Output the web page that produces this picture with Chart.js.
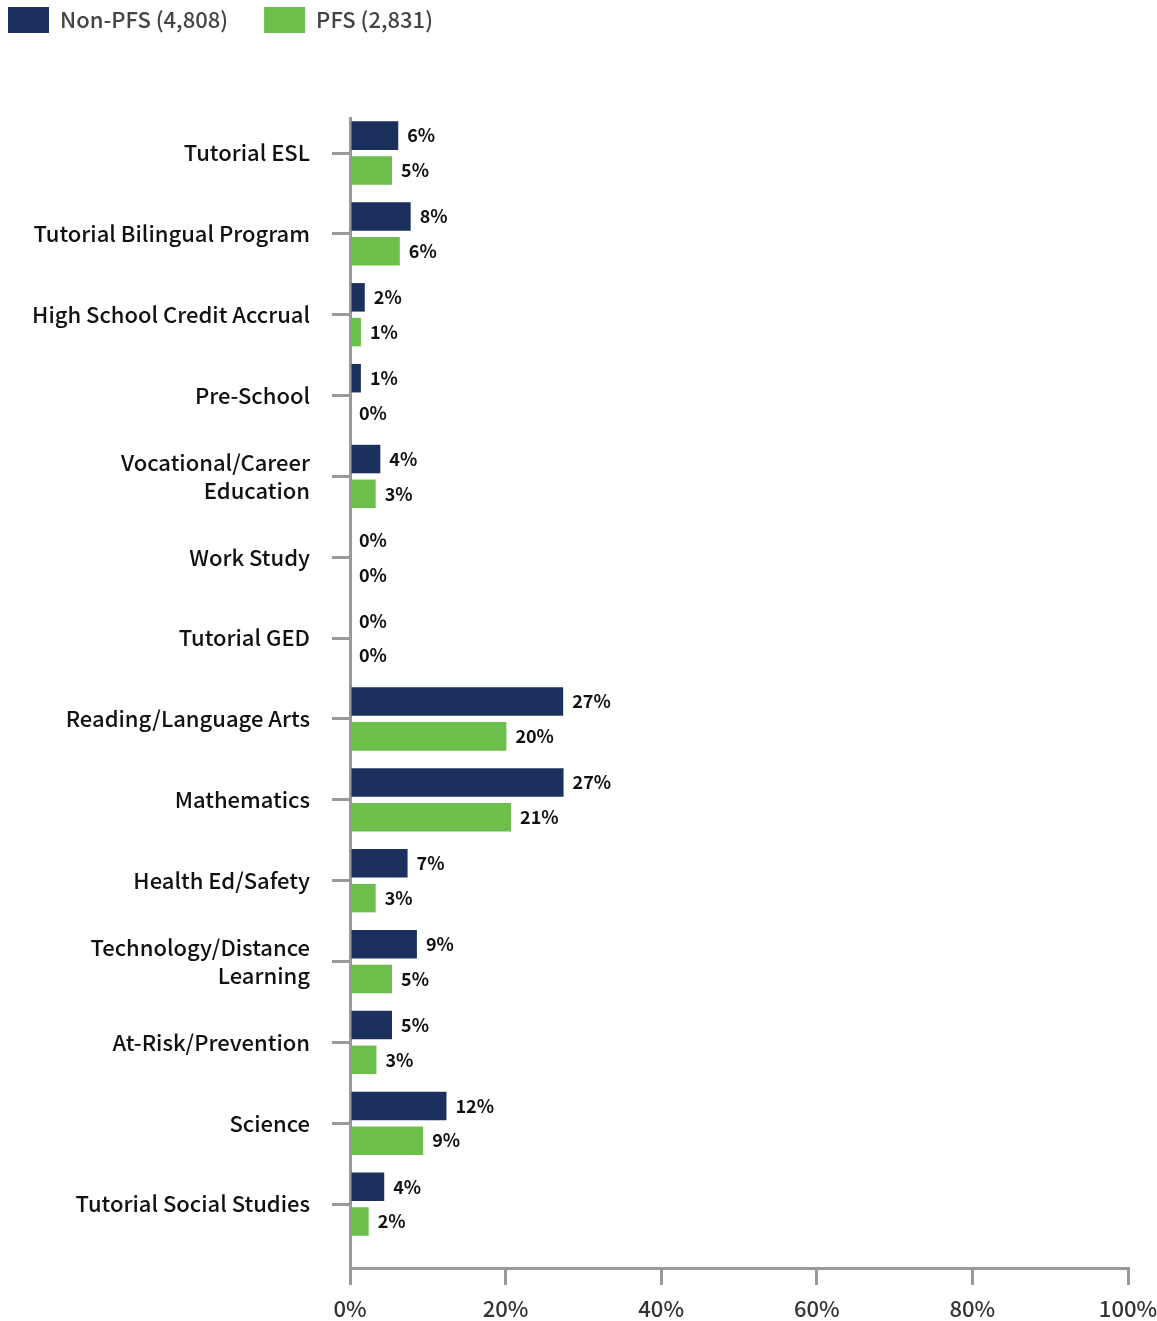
<!DOCTYPE html>
<html>
<head>
<meta charset="utf-8">
<script src="https://cdn.jsdelivr.net/npm/chart.js@4/dist/chart.umd.min.js"></script>
<style>
  html, body { margin: 0; padding: 0; background: #ffffff; }
  #wrap { width: 1157px; height: 1321px; }
</style>
</head>
<body>
<div id="wrap"><canvas id="c" width="1157" height="1321"></canvas></div>
<script>
// ---- data ----
const categories = [
  'Tutorial ESL',
  'Tutorial Bilingual Program',
  'High School Credit Accrual',
  'Pre-School',
  ['Vocational/Career', 'Education'],
  'Work Study',
  'Tutorial GED',
  'Reading/Language Arts',
  'Mathematics',
  'Health Ed/Safety',
  ['Technology/Distance', 'Learning'],
  'At-Risk/Prevention',
  'Science',
  'Tutorial Social Studies'
];
const seriesNames = ['Non-PFS (4,808)', 'PFS (2,831)'];
const nonPfs = [6.2, 7.8, 1.9, 1.4, 3.9, 0, 0, 27.4, 27.45, 7.4, 8.6, 5.4, 12.4, 4.4];
const pfs    = [5.4, 6.4, 1.4, 0,   3.3, 0, 0, 20.1, 20.7,  3.3, 5.4, 3.4, 9.4,  2.4];
const xTicks = [0, 20, 40, 60, 80, 100];

const NAVY = '#1c305e';
const GREEN = '#6cbf4a';
const AXIS = '#999999';
const FONT = '"Noto Sans CJK SC", "Open Sans", sans-serif';

const toPoints = arr => arr.map((v, i) => ({ x: v, y: i }));

const legendPlugin = {
  id: 'customLegend',
  afterDraw(chart) {
    const ctx = chart.ctx;
    ctx.save();
    ctx.font = '500 22px ' + FONT;
    ctx.textBaseline = 'middle';
    ctx.textAlign = 'left';
    let x = 8;
    chart.data.datasets.forEach(ds => {
      ctx.fillStyle = ds.backgroundColor;
      ctx.fillRect(x, 7, 41, 26);
      ctx.fillStyle = '#444444';
      ctx.fillText(ds.label, x + 52, 20);
      x += 52 + ctx.measureText(ds.label).width + 36;
    });
    ctx.restore();
  }
};

const valueLabels = {
  id: 'valueLabels',
  afterDatasetsDraw(chart) {
    const ctx = chart.ctx;
    ctx.save();
    ctx.font = 'bold 18px ' + FONT;
    ctx.fillStyle = '#111111';
    ctx.textBaseline = 'middle';
    ctx.textAlign = 'left';
    chart.data.datasets.forEach((ds, di) => {
      const meta = chart.getDatasetMeta(di);
      meta.data.forEach((bar, i) => {
        const v = ds.data[i].x;
        ctx.fillText(Math.round(v) + '%', bar.x + 9, bar.y);
      });
    });
    ctx.restore();
  }
};

new Chart(document.getElementById('c'), {
  type: 'bar',
  data: {
    datasets: [
      { label: seriesNames[0], data: toPoints(nonPfs), backgroundColor: NAVY },
      { label: seriesNames[1], data: toPoints(pfs), backgroundColor: GREEN }
    ]
  },
  options: {
    indexAxis: 'y',
    responsive: false,
    animation: false,
    categoryPercentage: 0.86,
    barPercentage: 0.82,
    layout: { padding: { top: 118, right: 0, left: 0, bottom: 0 } },
    plugins: {
      legend: { display: false },
      tooltip: { enabled: false }
    },
    scales: {
      x: {
        type: 'linear',
        position: 'bottom',
        min: 0,
        max: 100,
        afterBuildTicks(scale) { scale.ticks = xTicks.map(v => ({ value: v })); },
        afterFit(scale) { scale.height = 53; scale.paddingRight = 29; },
        border: { display: true, color: AXIS, width: 3 },
        grid: { drawOnChartArea: false, drawTicks: true, tickLength: 17, color: AXIS, lineWidth: 3 },
        ticks: {
          padding: 10,
          color: '#333333',
          font: { family: FONT, size: 22, weight: '500' },
          callback: v => v + '%'
        }
      },
      y: {
        type: 'linear',
        reverse: true,
        offset: false,
        min: -0.433,
        max: 13.79,
        afterBuildTicks(scale) { scale.ticks = categories.map((c, i) => ({ value: i })); },
        afterFit(scale) { scale.width = 350; },
        border: { display: true, color: AXIS, width: 3 },
        grid: { offset: false, drawOnChartArea: false, drawTicks: true, tickLength: 18, color: AXIS, lineWidth: 3 },
        ticks: {
          padding: 22,
          color: '#111111',
          font: { family: FONT, size: 22, weight: '500', lineHeight: 1.27 },
          callback: v => categories[v]
        }
      }
    }
  },
  plugins: [legendPlugin, valueLabels]
});
</script>
</body>
</html>
